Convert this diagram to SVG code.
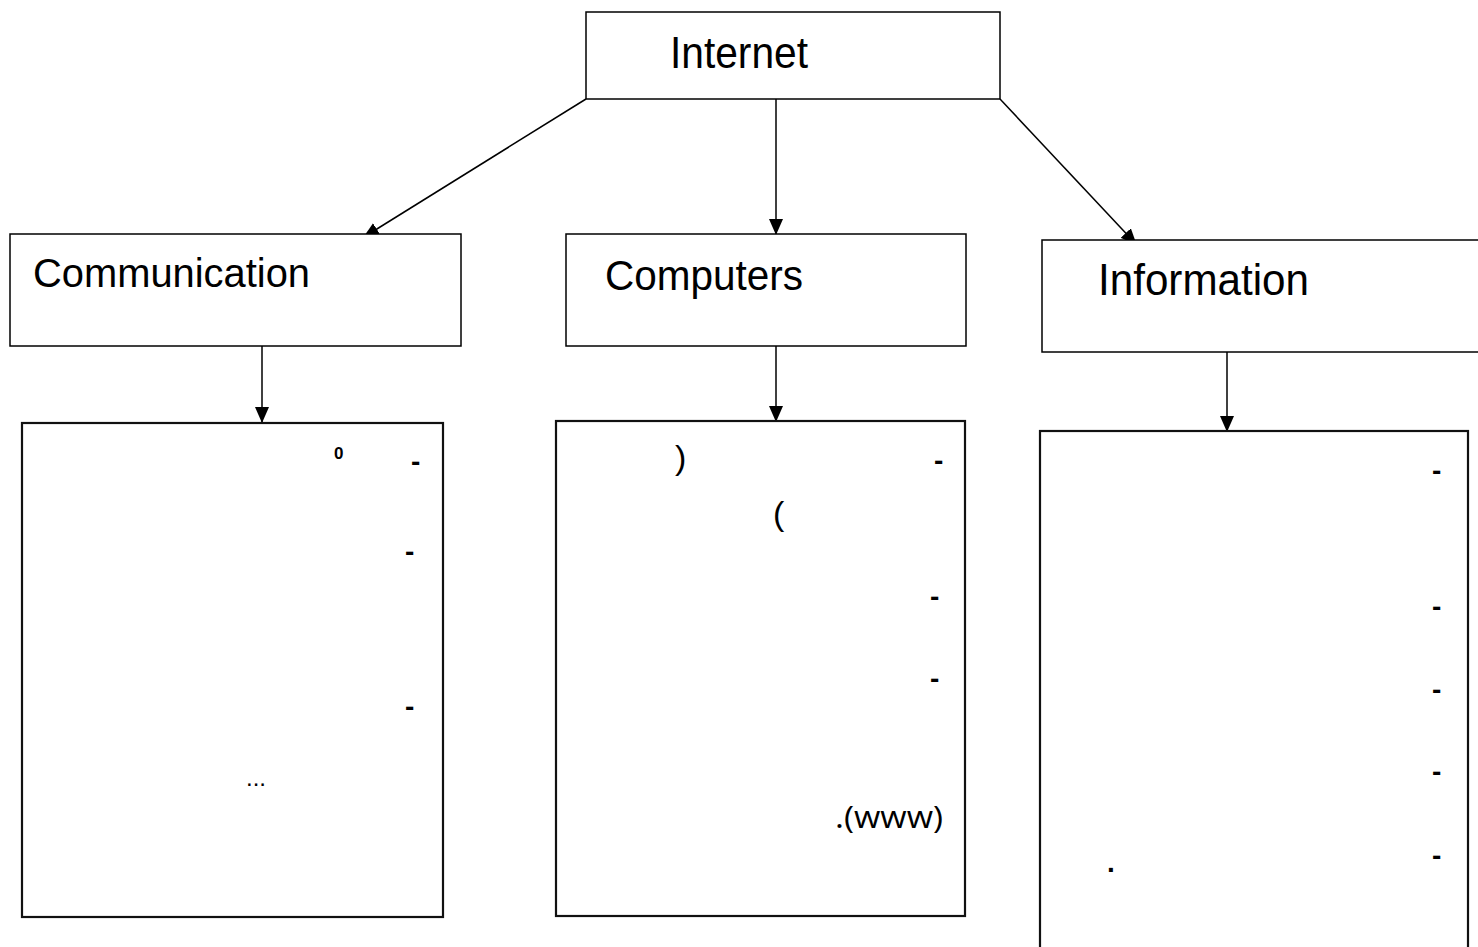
<svg xmlns="http://www.w3.org/2000/svg" width="1478" height="947" viewBox="0 0 1478 947">
<style>
.box{fill:#fff;stroke:#000;stroke-width:1.5}
.lbox{fill:#fff;stroke:#111;stroke-width:2.2}
.h{font-family:"Liberation Sans",Arial,sans-serif;fill:#000}
.t{font-family:"Liberation Sans",Arial,sans-serif;fill:#000}
.d{font-family:"Liberation Sans",Arial,sans-serif;font-weight:bold;font-size:28px;fill:#000}
.p{font-family:"Open Sans","Liberation Sans",sans-serif;fill:#000}
.c{stroke:#000;stroke-width:1.5;fill:none;marker-end:url(#ah)}
</style>
<defs>
<marker id="ah" markerWidth="16" markerHeight="14" refX="15" refY="7" orient="auto" markerUnits="userSpaceOnUse">
<path d="M0,0 L16,7 L0,14 Z" fill="#000"/>
</marker>
</defs>
<rect width="1478" height="947" fill="#fff"/>
<g id="connectors">
<line class="c" x1="586" y1="99" x2="364" y2="237"/>
<line class="c" x1="776" y1="99" x2="776" y2="234"/>
<line class="c" x1="1000" y1="99" x2="1136" y2="244"/>
<line class="c" x1="262" y1="346" x2="262" y2="422"/>
<line class="c" x1="776" y1="346" x2="776" y2="421"/>
<line class="c" x1="1227" y1="352" x2="1227" y2="431"/>
</g>
<g id="internet">
<rect class="box" x="586" y="12" width="414" height="87"/>
<text class="h" x="670" y="68" style="font-size:45px" textLength="138" lengthAdjust="spacingAndGlyphs">Internet</text>
</g>
<g id="communication">
<rect class="box" x="10" y="234" width="451" height="112"/>
<text class="h" x="33" y="287" style="font-size:41px" textLength="277" lengthAdjust="spacingAndGlyphs">Communication</text>
</g>
<g id="computers">
<rect class="box" x="566" y="234" width="400" height="112"/>
<text class="h" x="605" y="290" style="font-size:43px" textLength="198" lengthAdjust="spacingAndGlyphs">Computers</text>
</g>
<g id="information">
<rect class="box" x="1042" y="240" width="440" height="112"/>
<text class="h" x="1098" y="295" style="font-size:44px" textLength="211" lengthAdjust="spacingAndGlyphs">Information</text>
</g>
<g id="communication-details">
<rect class="lbox" x="22" y="423" width="421" height="494"/>
<text class="t" x="334" y="459" style="font-size:17px;font-weight:bold">0</text>
<text class="d" x="411" y="471">-</text>
<text class="d" x="405" y="561">-</text>
<text class="d" x="405" y="716">-</text>
<text class="t" x="246" y="786" style="font-size:24px">...</text>
</g>
<g id="computers-details">
<rect class="lbox" x="556" y="421" width="409" height="495"/>
<text class="t" x="675" y="469" style="font-size:34px">)</text>
<text class="d" x="934" y="470">-</text>
<text class="t" x="773" y="525" style="font-size:34px">(</text>
<text class="d" x="930" y="606">-</text>
<text class="d" x="930" y="688">-</text>
<text class="p" x="835" y="828" style="font-size:31px" textLength="108" lengthAdjust="spacingAndGlyphs">.(www)</text>
</g>
<g id="information-details">
<rect class="lbox" x="1040" y="431" width="428" height="530"/>
<text class="d" x="1432" y="480">-</text>
<text class="d" x="1432" y="616">-</text>
<text class="d" x="1432" y="699">-</text>
<text class="d" x="1432" y="781">-</text>
<text class="d" x="1432" y="865">-</text>
<text class="d" x="1107" y="872">.</text>
</g>
</svg>
